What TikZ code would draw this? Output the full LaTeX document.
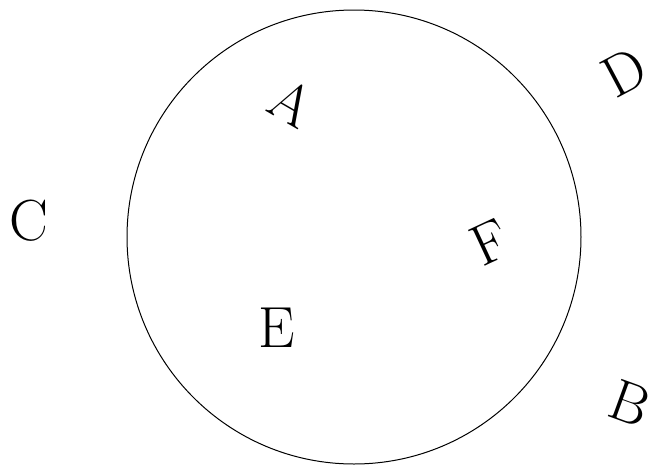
\documentclass[tikz,border=0pt]{standalone}
\usepackage{tikz}

\begin{document}
\begin{tikzpicture}[
  x=1pt, y=-1pt,
  lbl/.style={inner sep=0pt, font=\fontsize{58}{58}\selectfont},
  ring/.style={draw, line width=1pt}
]
  \useasboundingbox (0,0) rectangle (659,469);
  \draw[ring] (354,237) circle[radius=227];
  \node[lbl, rotate=-30] (a) at (292,103) {A};
  \node[lbl, rotate=-20] (b) at (630,403) {B};
  \node[lbl] (c) at (29,221) {C};
  \node[lbl, rotate=28] (d) at (624,72) {D};
  \node[lbl] (e) at (277,328) {E};
  \node[lbl, rotate=25] (f) at (490,242) {F};
\end{tikzpicture}
\end{document}
